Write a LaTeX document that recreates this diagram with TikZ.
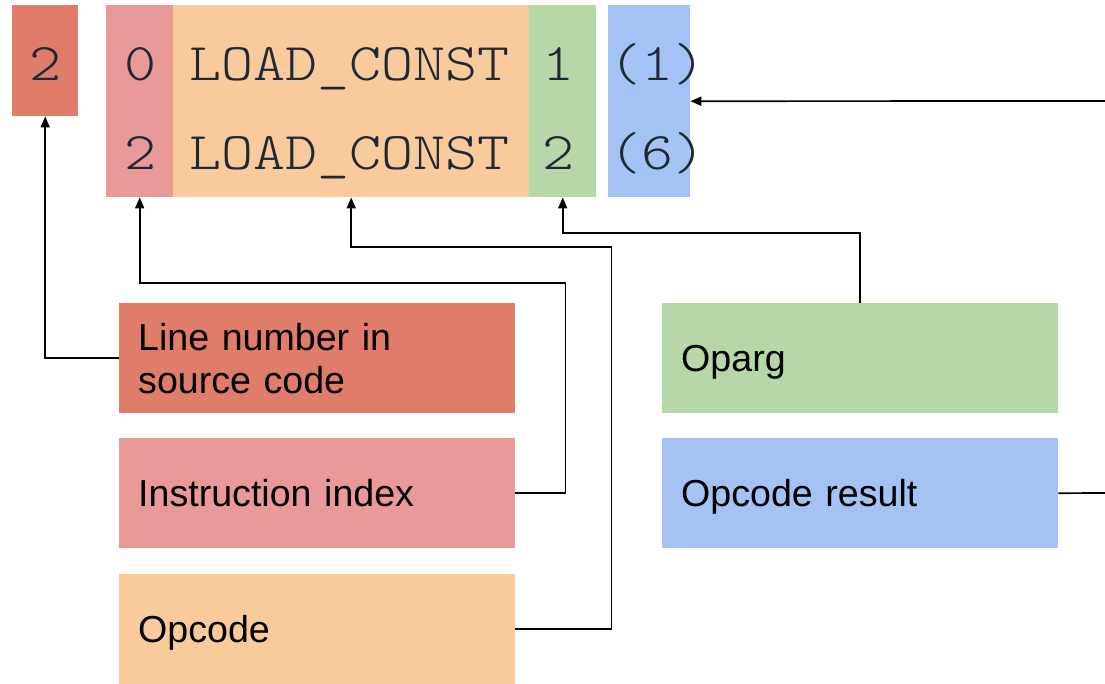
\documentclass[tikz,border=0pt]{standalone}
\usepackage{fontspec}
\setmainfont{Liberation Sans}
\newfontfamily\codefont[FakeStretch=1.15]{Latin Modern Mono Light}
\usetikzlibrary{arrows.meta}
\definecolor{clineno}{HTML}{DF7D6A}
\definecolor{cindex}{HTML}{EA9999}
\definecolor{copcode}{HTML}{F9CB9C}
\definecolor{coparg}{HTML}{B6D7A8}
\definecolor{cresult}{HTML}{A4C2F4}
\definecolor{codeink}{HTML}{1F2933}
\tikzset{
  col/.style={inner sep=0pt, anchor=north west, minimum height=192pt},
  code/.style={inner sep=0pt, anchor=base, text=codeink, font=\codefont\fontsize{53}{53}\selectfont},
  lbl/.style={inner sep=0pt, anchor=north west, minimum width=396pt, minimum height=110pt,
    text width=358pt, align=left, font=\fontsize{37.6}{43}\selectfont},
  lblone/.style={lbl, text depth=0pt},
  arr/.style={line width=1.7pt, -{Triangle[length=11pt,width=9pt]}},
  ln/.style={line width=1.7pt}
}
\begin{document}
\begin{tikzpicture}[x=1pt,y=-1pt]
\useasboundingbox (0,0) rectangle (1105,684);

% bytecode listing columns
\node[col, fill=clineno, minimum width=66pt, minimum height=111pt] (lncol) at (12,5) {};
\node[col, fill=cindex, minimum width=67pt] (idxcol) at (106,5) {};
\node[col, fill=copcode, minimum width=356pt] (opcol) at (173,5) {};
\node[col, fill=coparg, minimum width=67pt] (argcol) at (529,5) {};
\node[col, fill=cresult, minimum width=82pt] (rescol) at (608,5) {};

% listing text
\node[code] (t0) at (45,81) {2};
\node[code] (t1) at (140,81) {0};
\node[code] (t2) at (140,170) {2};
\node[code, anchor=base west] (t3) at (189,81) {LOAD\_CONST};
\node[code, anchor=base west] (t4) at (189,170) {LOAD\_CONST};
\node[code] (t5) at (558,81) {1};
\node[code] (t6) at (558,170) {2};
\node[code] (t7) at (657,81) {(1)};
\node[code] (t8) at (657,170) {(6)};

% legend boxes
\node[lbl, fill=clineno] (lnlbl) at (119,303) {Line number in\\source code};
\node[lblone, fill=cindex] (idxlbl) at (119,438) {Instruction index};
\node[lblone, fill=copcode] (oplbl) at (119,574) {Opcode};
\node[lblone, fill=coparg] (arglbl) at (662,303) {Oparg};
\node[lblone, fill=cresult] (reslbl) at (662,438) {Opcode result};

% connectors
\draw[arr] (lnlbl.west) -| (lncol.south);
\draw[arr] (idxlbl.east) -| ++(50,-210) -| (idxcol.south);
\draw[arr] (oplbl.east) -| ++(96,-382) -| (opcol.south);
\draw[arr] (arglbl.north) -- ++(0,-70) -| (argcol.south);
\coordinate (resin) at (1105,101);
\coordinate (resout) at (1105,493);
\draw[ln] (reslbl.east) -- (resout);
\draw[arr] (resin) -- (rescol.east);
\end{tikzpicture}
\end{document}
